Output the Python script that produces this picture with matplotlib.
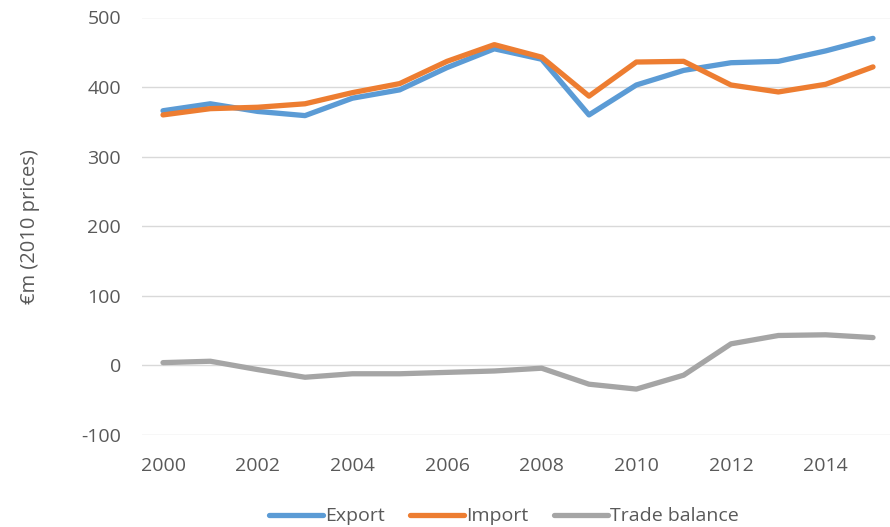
import matplotlib.pyplot as plt

years = list(range(2000, 2016))
export = [366, 376, 365, 359, 384, 396, 428, 455, 440, 360, 403, 424, 435, 437, 452, 470]
imports = [360, 369, 371, 376, 392, 405, 437, 461, 443, 387, 436, 437, 403, 393, 404, 429]
trade_balance = [4, 6, -6, -17, -12, -12, -10, -8, -4, -27, -34, -14, 31, 43, 44, 40]
xtick_years = list(range(2000, 2016, 2))
yticks = [-100, 0, 100, 200, 300, 400, 500]

text_col = '#595959'
plt.rcParams['font.family'] = ['Open Sans', 'DejaVu Sans']
plt.rcParams['axes.unicode_minus'] = False

fig = plt.figure(figsize=(8.9, 5.27), dpi=100)
ax = fig.add_axes([142 / 890, (527 - 435) / 527, (890 - 142) / 890, (435 - 17.5) / 527])

ax.plot(years, export, color='#5B9BD5', lw=3.8, label='Export', solid_capstyle='round')
ax.plot(years, imports, color='#ED7D31', lw=3.8, label='Import', solid_capstyle='round')
ax.plot(years, trade_balance, color='#A5A5A5', lw=3.8, label='Trade balance', solid_capstyle='round')

ax.set_xlim(2000 - 21 / 47.33, 2015 + 17 / 47.33)
ax.set_ylim(-100, 500)
ax.set_yticks(yticks)
ax.set_xticks(xtick_years)
ax.grid(axis='y', color='#D9D9D9', lw=1)
ax.set_axisbelow(True)
for s in ax.spines.values():
    s.set_visible(False)
ax.tick_params(length=0, labelsize=14, colors=text_col)
ax.tick_params(axis='y', pad=15)
ax.tick_params(axis='x', pad=16)
ax.set_ylabel('€m (2010 prices)', fontsize=14.5, color=text_col, labelpad=30)

leg = fig.legend(loc='lower center', bbox_to_anchor=(0.566, -0.03), ncol=3, frameon=False,
                 fontsize=14, handlelength=2.8, handletextpad=0.1, columnspacing=1.3)
for t in leg.get_texts():
    t.set_color(text_col)

fig.savefig('out.png', dpi=100)
